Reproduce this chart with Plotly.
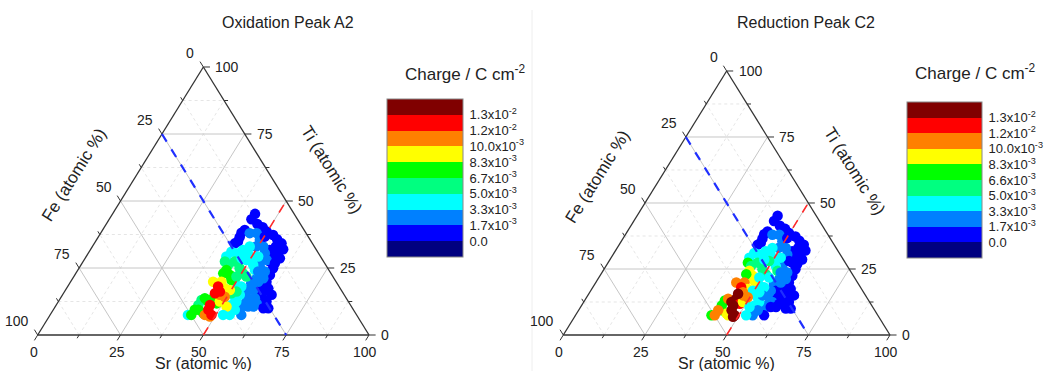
import numpy as np
import plotly.graph_objects as go

# ---------------- data ----------------
# composition of each library spot (atomic %), Fe = 100 - Sr - Ti
SR = [43.0, 42.9, 45.6, 47.8, 49.8, 42.4, 43.0, 42.4, 42.9, 52.4, 54.4, 56.5, 58.1, 55.4, 57.3,
      55.9, 56.4, 58.6, 58.9, 59.1, 60.9, 60.0, 59.9, 62.8, 64.6, 57.9, 58.2, 62.2, 54.2, 62.0,
      45.0, 47.1, 49.3, 49.4, 51.6, 53.3, 53.6, 56.7, 55.5, 54.8, 56.7, 55.1, 55.8, 58.7, 57.7,
      56.4, 56.3, 57.7, 58.2, 60.2, 56.6, 57.5, 54.3, 55.1,
      42.9, 42.3, 44.7, 46.1, 48.2, 50.2, 52.0, 51.9, 49.0, 53.4, 50.6, 52.4, 52.3, 53.7, 52.9,
      52.8, 54.2, 54.8, 53.5, 41.6, 47.5,
      42.8, 45.8, 48.5, 50.5, 52.1, 44.4, 51.9, 42.9, 42.9, 50.7,
      44.8, 46.8, 44.5, 48.2, 43.6, 43.8, 42.6, 45.2, 46.1, 45.9, 48.1,
      43.0, 45.5, 47.8, 49.6, 48.7, 51.7,
      49.3, 47.5, 46.7, 48.5,
      45.4, 46.9, 45.7, 46.4, 46.8, 48.7,
      42.7, 58.8, 58.2, 63.1, 63.1, 50.2, 54.7, 59.8, 47.2, 52.2, 42.7, 49.1]
TI = [45.2, 43.2, 41.4, 40.2, 38.6, 38.2, 34.9, 34.2, 39.2, 37.3, 35.7, 34.2, 32.0, 33.0, 30.5,
      29.3, 27.4, 24.9, 22.4, 19.9, 17.4, 16.2, 14.3, 12.5, 10.0, 17.4, 18.7, 11.8, 31.7, 13.1,
      38.0, 38.0, 35.5, 33.0, 33.0, 30.5, 28.0, 23.7, 21.2, 19.3, 16.8, 16.8, 14.3, 13.7, 12.5,
      11.2, 9.4, 7.5, 10.6, 11.8, 19.9, 21.2, 25.5, 28.0,
      31.1, 29.3, 30.5, 31.7, 30.5, 28.6, 26.1, 29.3, 28.0, 24.3, 18.7, 18.1, 14.3, 12.5, 11.2,
      9.4, 7.5, 9.4, 15.0, 7.5, 33.0,
      27.4, 27.4, 24.9, 23.0, 21.8, 26.1, 16.2, 13.1, 11.2, 15.6,
      24.3, 22.4, 23.0, 20.5, 13.7, 9.4, 7.5, 12.5, 13.7, 8.1, 11.8,
      19.9, 19.9, 17.4, 16.8, 12.5, 10.6,
      14.3, 15.0, 7.5, 6.9,
      18.1, 16.2, 15.6, 11.2, 9.4, 7.5,
      36.5, 28.6, 26.8, 15.0, 10.0, 36.7, 23.7, 10.6, 28.6, 7.5, 9.4, 21.8]

# charge in 10^-3 C cm^-2
CHARGE_A2_mC = [0.6, 0.8, 1.1, 0.9, 1.3, 0.7, 1.0, 1.2, 0.9, 0.8, 0.7, 0.6, 0.5, 0.9, 0.6,
                1.1, 1.0, 0.8, 1.2, 1.3, 0.9, 1.4, 1.2, 1.0, 0.8, 1.3, 1.1, 1.2, 0.9, 1.3,
                2.0, 2.3, 2.6, 2.9, 2.4, 2.2, 2.7, 2.5, 2.8, 3.0, 2.1, 2.6, 2.9, 2.3, 2.7,
                2.5, 3.1, 2.2, 2.0, 2.4, 2.6, 2.3, 2.8, 2.1,
                4.0, 3.8, 4.3, 4.1, 4.5, 3.9, 4.6, 4.2, 4.4, 4.7, 3.7, 4.2, 4.0, 4.3, 3.9,
                4.4, 4.1, 3.8, 4.5, 4.6, 4.0,
                5.5, 5.8, 6.1, 5.9, 5.4, 6.2, 5.7, 6.0, 5.6, 5.3,
                7.2, 7.5, 7.8, 7.1, 7.6, 7.9, 7.3, 7.4, 7.7, 8.0, 7.5,
                9.0, 9.4, 8.8, 9.2, 9.6, 8.7,
                10.6, 11.0, 10.8, 11.3,
                12.3, 12.6, 12.9, 12.1, 12.5, 12.8,
                1.0, 0.7, 1.1, 0.9, 1.2, 0.8, 2.4, 2.2, 4.3, 4.4, 7.4, 5.7]
CHARGE_C2_mC = [0.7, 0.9, 1.0, 1.2, 0.8, 0.6, 1.1, 0.9, 1.3, 0.8, 0.6, 0.7, 0.5, 1.0, 0.7,
                0.9, 1.2, 0.8, 1.1, 1.3, 1.0, 1.2, 1.4, 0.9, 0.7, 1.2, 1.0, 1.3, 0.8, 1.1,
                2.1, 2.4, 2.7, 2.9, 2.3, 2.5, 2.8, 2.6, 2.2, 2.0, 1.4, 2.5, 2.3, 1.2, 2.6,
                2.8, 2.4, 1.5, 1.3, 1.1, 2.7, 2.2, 2.9, 1.4,
                4.1, 3.9, 4.4, 4.2, 4.6, 4.0, 4.5, 4.3, 5.6, 5.9, 3.8, 4.2, 4.4, 4.0, 4.6,
                3.7, 2.8, 3.0, 2.6, 7.4, 4.3,
                7.2, 5.8, 6.1, 5.5, 4.7, 5.9, 4.4, 7.6, 7.3, 4.5,
                9.1, 9.4, 7.7, 8.9, 10.7, 7.5, 11.0, 14.1, 14.3, 9.3, 12.4,
                10.9, 10.5, 9.2, 4.6, 9.5, 4.1,
                10.8, 11.2, 9.0, 14.0,
                12.6, 10.9, 14.4, 14.2, 13.9, 14.5,
                0.9, 0.8, 0.6, 1.0, 0.9, 1.1, 2.6, 1.2, 4.1, 3.9, 10.7, 4.5]

TITLES = ["Oxidation Peak A2", "Reduction Peak C2"]
TERN_TICKS = [0, 25, 50, 75, 100]
CB_TICKVALS_mC = [0.0, 1.6667, 3.3333, 5.0, 6.6667, 8.3333, 10.0, 11.6667, 13.3333]
CB_TEXT_A2 = ["0.0", "1.7x10<sup>-3</sup>", "3.3x10<sup>-3</sup>", "5.0x10<sup>-3</sup>",
              "6.7x10<sup>-3</sup>", "8.3x10<sup>-3</sup>", "10.0x10<sup>-3</sup>",
              "1.2x10<sup>-2</sup>", "1.3x10<sup>-2</sup>"]
CB_TEXT_C2 = ["0.0", "1.7x10<sup>-3</sup>", "3.3x10<sup>-3</sup>", "5.0x10<sup>-3</sup>",
              "6.6x10<sup>-3</sup>", "8.3x10<sup>-3</sup>", "10.0x10<sup>-3</sup>",
              "1.2x10<sup>-2</sup>", "1.3x10<sup>-2</sup>"]
BIN_COLORS = ["#000080", "#0000FF", "#0080FF", "#00FFFF", "#00FF80",
              "#00FF00", "#FFFF00", "#FF8000", "#FF0000", "#800000"]

# ---------------- helpers ----------------
W, H = 1046, 371
S3 = np.sqrt(3) / 2
FONT = "Liberation Sans, Arial, sans-serif"


def txy(sr, ti):
    return sr + ti / 2.0, ti * S3


def fnt(size):
    return dict(family=FONT, size=size, color="#222222")


CMIN, CMAX = -1.6667e-3, 15.0e-3
cs = []
n = len(BIN_COLORS)
for i, c in enumerate(BIN_COLORS):
    cs.append([i / n, c])
    cs.append([(i + 1) / n, c])


def seg_trace(segs, xa, ya, color, width, dash="solid"):
    xs, ys = [], []
    for (a, b) in segs:
        x0, y0 = txy(*a)
        x1, y1 = txy(*b)
        xs += [x0, x1, None]
        ys += [y0, y1, None]
    return go.Scatter(x=xs, y=ys, mode="lines", xaxis=xa, yaxis=ya, hoverinfo="skip",
                      showlegend=False, line=dict(color=color, width=width, dash=dash))


def grid_segs(vals):
    segs = []
    for v in vals:
        segs.append(((0, v), (100 - v, v)))        # Ti = v
        segs.append(((v, 0), (v, 100 - v)))        # Sr = v
        segs.append(((100 - v, 0), (0, 100 - v)))  # Fe = v
    return segs


AX = {
    "x": dict(domain=[0, 0.5], range=[-11.38, 146.48]),
    "y": dict(domain=[0, 1], range=[-11.63, 108.25]),
    "x2": dict(domain=[0.5, 1], range=[-12.34, 147.75]),
    "y2": dict(domain=[0, 1], range=[-11.81, 109.89]),
}


def to_paper(xa, ya, x, y, dx=0.0, dy=0.0):
    """data coords of a panel -> paper coords, plus a pixel offset (dy > 0 is up)."""
    ax, ay = AX[xa], AX[ya]
    px = ax["domain"][0] + (x - ax["range"][0]) / (ax["range"][1] - ax["range"][0]) * \
        (ax["domain"][1] - ax["domain"][0])
    py = ay["domain"][0] + (y - ay["range"][0]) / (ay["range"][1] - ay["range"][0]) * \
        (ay["domain"][1] - ay["domain"][0])
    return px + dx / W, py + dy / H


fig = go.Figure()
annotations = []
panels = [("x", "y", CHARGE_A2_mC, CB_TEXT_A2, 0.370, 0.5202, 0.4259, 76),
          ("x2", "y2", CHARGE_C2_mC, CB_TEXT_C2, 0.8671, 0.5148, 0.4205, 75)]


def ann(xa, ya, x, y, text, xanchor, yanchor, dx, dy, size, angle=0):
    px, py = to_paper(xa, ya, x, y, dx, dy)
    annotations.append(dict(x=px, y=py, xref="paper", yref="paper", text=text, showarrow=False,
                            xanchor=xanchor, yanchor=yanchor, textangle=angle, font=fnt(size)))


for k, (xa, ya, charge, cbtext, cbx, cby, cblen, cbth) in enumerate(panels):
    # grid
    fig.add_trace(seg_trace(grid_segs([12.5, 37.5, 62.5, 87.5]), xa, ya, "#e2e2e2", 0.9, "dot"))
    fig.add_trace(seg_trace(grid_segs([25, 50, 75]), xa, ya, "#c6c6c6", 1.0))
    # ticks (aligned with the grid direction, pointing outwards)
    xs, ys = [], []
    for v in np.arange(0, 100.01, 12.5):
        L = 2.0 if v % 25 == 0 else 1.2
        pts = [(txy(v, 0), (-0.5, -S3)),
               (txy(100 - v, v), (1.0, 0.0)),
               (txy(0, 100 - v), (-0.5, S3))]
        for (p, d) in pts:
            xs += [p[0], p[0] + d[0] * L, None]
            ys += [p[1], p[1] + d[1] * L, None]
    fig.add_trace(go.Scatter(x=xs, y=ys, mode="lines", xaxis=xa, yaxis=ya, hoverinfo="skip",
                             showlegend=False, line=dict(color="#333333", width=1)))
    # markers
    X, Y = txy(np.array(SR), np.array(TI))
    fig.add_trace(go.Scatter(
        x=X, y=Y, mode="markers", xaxis=xa, yaxis=ya, showlegend=False,
        marker=dict(size=10.5, color=np.array(charge) * 1e-3, colorscale=cs, cmin=CMIN, cmax=CMAX,
                    line=dict(width=0),
                    colorbar=dict(x=cbx, xanchor="left", y=cby, yanchor="middle",
                                  len=cblen, lenmode="fraction", thickness=cbth,
                                  thicknessmode="pixels", xpad=0, ypad=0,
                                  outlinecolor="#888888", outlinewidth=1,
                                  tickvals=[v * 1e-3 for v in CB_TICKVALS_mC], ticktext=cbtext,
                                  ticks="outside", ticklen=4, tickcolor="rgba(0,0,0,0)",
                                  tickfont=fnt(13))),
    ))
    # triangle edges
    fig.add_trace(seg_trace([((0, 0), (100, 0)), ((100, 0), (0, 100)), ((0, 100), (0, 0))],
                            xa, ya, "#333333", 1.3))
    # dashed guide lines
    fig.add_trace(seg_trace([((0, 75), (75, 0))], xa, ya, "#1f2fff", 2.2, "dash"))
    fig.add_trace(seg_trace([((50, 0), (50, 50))], xa, ya, "#ff2a2a", 1.6, "dash"))

    for v in TERN_TICKS:
        x0, y0 = txy(v, 0)            # Sr (bottom edge)
        ann(xa, ya, x0, y0, str(v), "center", "top", -4, -7, 14)
        x0, y0 = txy(100 - v, v)      # Ti (right edge)
        ann(xa, ya, x0, y0, str(v), "left", "middle", 10, 0, 14)
        x0, y0 = txy(0, 100 - v)      # Fe (left edge)
        ann(xa, ya, x0, y0, str(v), "right", "middle", -7, 14, 14)
    ann(xa, ya, 50, 0, "Sr (atomic %)", "center", "middle", 0, -28.5, 16)
    mx, my = txy(50, 50)
    ann(xa, ya, mx, my, "Ti (atomic %)", "center", "middle", 46, 31, 17, 58)
    mx, my = txy(0, 50)
    ann(xa, ya, mx, my, "Fe (atomic %)", "center", "middle", -47, 26, 17, -58)

# titles & colorbar titles
annotations.append(dict(x=288 / W, y=1 - 22 / H, xref="paper", yref="paper", text=TITLES[0],
                        showarrow=False, xanchor="center", yanchor="middle", font=fnt(16)))
annotations.append(dict(x=806 / W, y=1 - 23 / H, xref="paper", yref="paper", text=TITLES[1],
                        showarrow=False, xanchor="center", yanchor="middle", font=fnt(16)))
for cx, cy in [(465 / W, 1 - 73 / H), (975 / W, 1 - 72 / H)]:
    annotations.append(dict(x=cx, y=cy, xref="paper", yref="paper",
                            text="Charge / C cm<sup>-2</sup>", showarrow=False,
                            xanchor="center", yanchor="middle", font=fnt(17)))

fig.update_layout(
    width=W, height=H, margin=dict(l=0, r=0, t=0, b=0),
    paper_bgcolor="white", plot_bgcolor="white", showlegend=False,
    font=fnt(14),
    xaxis=dict(AX["x"], visible=False, fixedrange=True),
    yaxis=dict(AX["y"], visible=False, anchor="x", fixedrange=True),
    xaxis2=dict(AX["x2"], visible=False, fixedrange=True),
    yaxis2=dict(AX["y2"], visible=False, anchor="x2", fixedrange=True),
    annotations=annotations,
    shapes=[dict(type="line", xref="paper", yref="paper", x0=532 / W, x1=532 / W,
                 y0=0, y1=1 - 10 / H, line=dict(color="#eeeeee", width=1))],
)

fig.write_html("out.html", config={"displayModeBar": False},
               post_script="document.body.style.margin='0';document.body.style.overflow='hidden';")
